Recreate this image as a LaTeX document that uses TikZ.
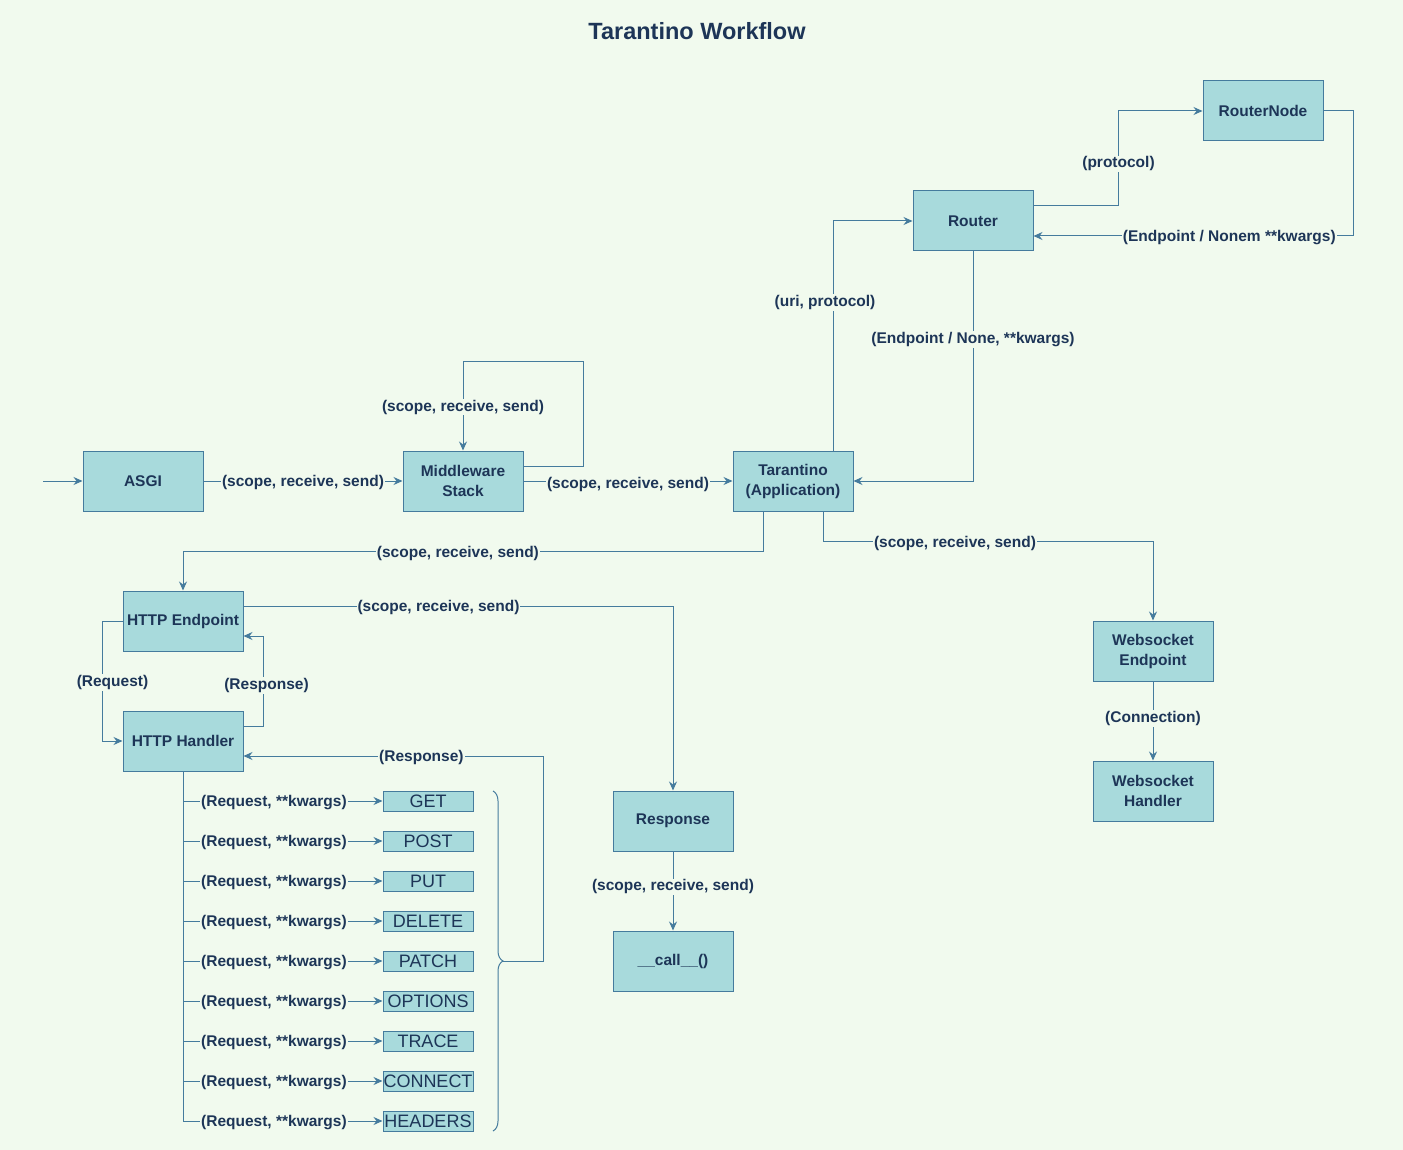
\documentclass[tikz,border=0pt]{standalone}
\usepackage{fontspec}
\setmainfont{Liberation Sans}
\usetikzlibrary{arrows.meta,decorations.pathreplacing,calc}
\definecolor{bg}{HTML}{F1FAEE}
\definecolor{boxfill}{HTML}{A8DADC}
\definecolor{boxline}{HTML}{457B9D}
\definecolor{ink}{HTML}{1D3557}
\begin{document}
\begin{tikzpicture}[x=1pt,y=-1pt,
 box/.style={draw=boxline, fill=boxfill, line width=1pt, minimum width=120pt, minimum height=60pt, text=ink, font=\fontsize{15.5}{20}\selectfont\bfseries, align=center, inner sep=2pt},
 mbox/.style={draw=boxline, fill=boxfill, line width=1pt, minimum width=90pt, minimum height=20pt, text=ink, font=\fontsize{18}{20}\selectfont, inner sep=0pt},
 conn/.style={draw=boxline, line width=1pt, -{Stealth[length=9pt,width=8pt,inset=3pt]}},
 lbl/.style={fill=bg, text=ink, font=\fontsize{15.5}{18}\selectfont\bfseries, inner sep=1pt, yshift=-1.5pt}
]
\fill[bg] (0,0) rectangle (1403,1150);
\useasboundingbox (0,0) rectangle (1403,1150);

\node[font=\fontsize{23.5}{28}\selectfont\bfseries, text=ink] (title) at (697,31) {Tarantino Workflow};

\node[box] (asgi) at (143,481) {ASGI};
\node[box] (mw) at (463,481) {Middleware\\Stack};
\node[box] (tar) at (793,481) {Tarantino\\(Application)};
\node[box] (router) at (973,221) {Router};
\node[box] (rnode) at (1263,111) {RouterNode};
\node[box] (hep) at (183,621) {HTTP Endpoint};
\node[box] (handler) at (183,741) {HTTP Handler};
\node[box] (wsep) at (1153,651) {Websocket\\Endpoint};
\node[box] (wsh) at (1153,791) {Websocket\\Handler};
\node[box] (resp) at (673,821) {Response};
\node[box] (call) at (673,961) {\_\_call\_\_()};

\node[mbox] (get) at (428,801) {GET};
\node[mbox] (post) at (428,841) {POST};
\node[mbox] (put) at (428,881) {PUT};
\node[mbox] (delete) at (428,921) {DELETE};
\node[mbox] (patch) at (428,961) {PATCH};
\node[mbox] (options) at (428,1001) {OPTIONS};
\node[mbox] (trace) at (428,1041) {TRACE};
\node[mbox] (connect) at (428,1081) {CONNECT};
\node[mbox] (headers) at (428,1121) {HEADERS};

\coordinate (entry) at (43,481);
\draw[conn] (entry) -- (asgi);
\draw[conn] (asgi) -- node[lbl]{(scope, receive, send)} (mw);
\coordinate (loopa) at (583,466);
\coordinate (loopb) at (583,361);
\coordinate (loopc) at (463,361);
\draw[conn] ([yshift=15pt]mw.east) -- (loopa) -- (loopb) -- (loopc) -- node[lbl]{(scope, receive, send)} (mw.north);
\draw[conn] (mw) -- node[lbl, yshift=-2pt]{(scope, receive, send)} (tar);

\draw[conn] ([xshift=40pt]tar.north) |- node[lbl, pos=0.326, xshift=-8pt]{(uri, protocol)} (router.west);
\draw[conn] (router.south) |- node[lbl, pos=0.189]{(Endpoint / None, **kwargs)} (tar.east);
\draw[conn] ([yshift=15pt]router.east) -- ++(85,0) |- node[lbl, pos=0.23]{(protocol)} (rnode.west);
\draw[conn] (rnode.east) -- ++(30,0) |- node[lbl, pos=0.694]{(Endpoint / Nonem **kwargs)} ([yshift=-15pt]router.east);

\draw[conn] ([xshift=-30pt]tar.south) -- ++(0,40) -| node[lbl, pos=0.263]{(scope, receive, send)} (hep.north);
\draw[conn] ([xshift=30pt]tar.south) -- ++(0,30) -| node[lbl, pos=0.2]{(scope, receive, send)} (wsep.north);
\draw[conn] ([yshift=15pt]hep.east) -| node[lbl, pos=0.227]{(scope, receive, send)} (resp.north);

\draw[conn] (hep.west) -- ++(-20,0) |- node[lbl, pos=0.25, xshift=10pt]{(Request)} (handler.west);
\draw[conn] ([yshift=15pt]handler.east) -- ++(20,0) |- node[lbl, pos=0.233, xshift=3pt]{(Response)} ([yshift=-15pt]hep.east);

\draw[conn] (wsep) -- node[lbl, pos=0.45]{(Connection)} (wsh);
\draw[conn] (resp) -- node[lbl, pos=0.43]{(scope, receive, send)} (call);

\foreach \m in {get,post,put,delete,patch,options,trace,connect,headers}
  \draw[conn] (handler.south) |- node[lbl, pos=0.728]{(Request, **kwargs)} (\m.west);

\coordinate (brtop) at (493,791);
\coordinate (brbot) at (493,1131);
\coordinate (brtip) at (503,961);
\draw[boxline, line width=1pt, decorate, decoration={brace, amplitude=10pt}] (brtop) -- (brbot);
\draw[conn] (brtip) -- ++(40,0) |- node[lbl, pos=0.703]{(Response)} ([yshift=-15pt]handler.east);
\end{tikzpicture}
\end{document}
